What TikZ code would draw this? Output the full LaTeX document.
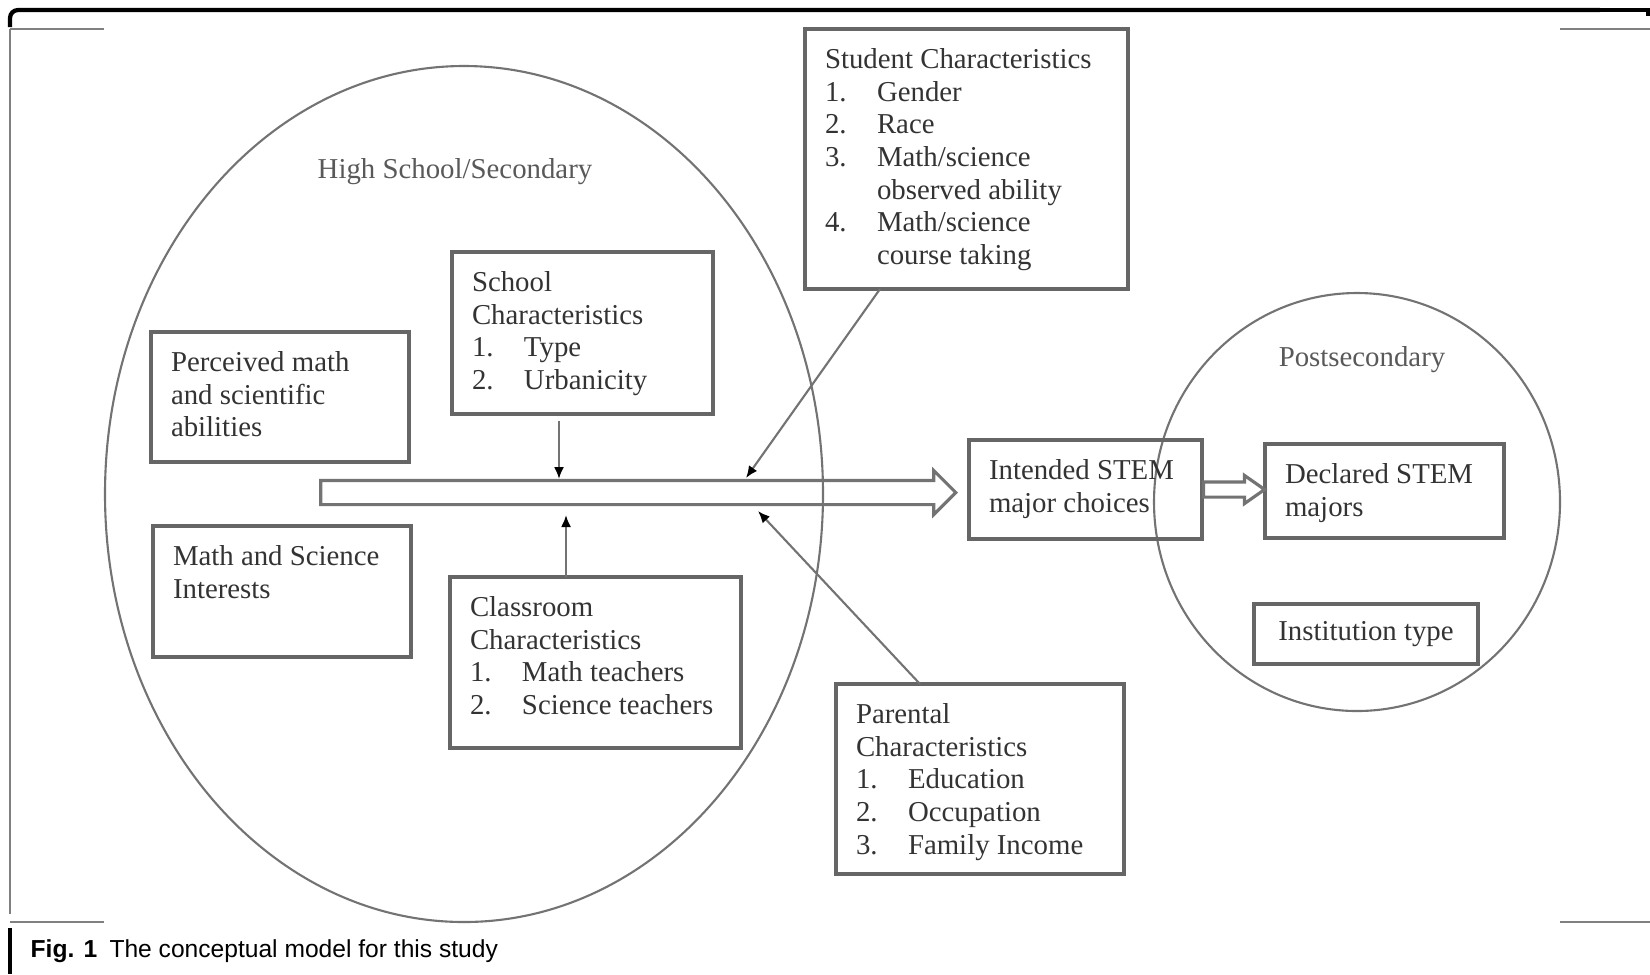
\documentclass[tikz,border=0pt]{standalone}
\usepackage{fontspec}
\setmainfont{Liberation Serif}
\newfontfamily\capfont{Liberation Sans}
\usetikzlibrary{arrows.meta,shapes.arrows}

\newcommand{\boxtext}[3]{\parbox[c][\dimexpr#2-3.3mm\relax][t]{\dimexpr#1-4mm\relax}{\begin{tabular}{@{}l@{}}#3\end{tabular}}}
\newcommand{\numline}[2]{\makebox[5.2mm][l]{#1}#2}
\newcommand{\moreline}[1]{\hspace*{5.2mm}#1}

\tikzset{
  factor/.style={draw=black!60, line width=0.9pt, anchor=north west, inner xsep=2mm, inner ysep=1.65mm,
    outer sep=0pt, text=black!80, font=\fontsize{8.2}{9.3}\selectfont},
  region/.style={draw=black!55, line width=0.6pt},
  zone/.style={text=black!65, font=\fontsize{8.2}{9.3}\selectfont},
  link/.style={draw=black!55, line width=0.6pt, -{Latex[length=1.2mm,width=1mm,color=black]}},
  bigarrow/.style={single arrow, draw=black!55, line width=0.9pt, inner xsep=0pt,
    text height=0pt, text depth=0pt},
  frameline/.style={draw=black!50, line width=0.7pt}
}

\begin{document}
\begin{tikzpicture}[x=0.1mm, y=-0.1mm]
      \useasboundingbox (0,0) rectangle (1650,974);
      \draw[line width=1.2pt, rounded corners=0.8mm] (10,27) -- (10,10) -- (1600,10);
      \draw[line width=1.2pt] (1590,10) -- (1648,10) -- (1648,16);
      \draw[frameline] (10,29) -- (10,914);
      \draw[line width=0.9pt] (10,928) -- (10,974);
      \draw[frameline] (10,29) -- (104,29);
      \draw[frameline] (1560,29) -- (1650,29);
      \draw[frameline] (10,922) -- (104,922);
      \draw[frameline] (1560,922) -- (1650,922);

      \draw[region] (464,494) ellipse [x radius=359, y radius=428];
      \draw[region] (1357,502) ellipse [x radius=203, y radius=209];
      \node[zone] (hslabel) at (455,172) {High School/Secondary};
      \node[zone] (pslabel) at (1362,360) {Postsecondary};

      \node[factor] (student) at (805,29) {\boxtext{32.3mm}{26mm}{Student Characteristics\\
        \numline{1.}{Gender}\\
        \numline{2.}{Race}\\
        \numline{3.}{Math/science}\\
        \moreline{observed ability}\\
        \numline{4.}{Math/science}\\
        \moreline{course taking}}};
      \node[factor] (school) at (452,252) {\boxtext{26.1mm}{16.2mm}{School\\
        Characteristics\\
        \numline{1.}{Type}\\
        \numline{2.}{Urbanicity}}};
      \node[factor] (perceived) at (151,332) {\boxtext{25.8mm}{13mm}{Perceived math\\
        and scientific\\
        abilities}};
      \node[factor] (interests) at (153,526) {\boxtext{25.8mm}{13.1mm}{Math and Science\\
        Interests}};
      \node[factor] (classroom) at (450,577) {\boxtext{29.1mm}{17.1mm}{Classroom\\
        Characteristics\\
        \numline{1.}{Math teachers}\\
        \numline{2.}{Science teachers}}};
      \node[factor] (parental) at (836,684) {\boxtext{28.8mm}{19mm}{Parental\\
        Characteristics\\
        \numline{1.}{Education}\\
        \numline{2.}{Occupation}\\
        \numline{3.}{Family Income}}};
      \node[factor] (intended) at (969,440) {\boxtext{23.3mm}{9.9mm}{Intended STEM\\
        major choices}};
      \node[factor] (declared) at (1265,444) {\boxtext{23.9mm}{9.4mm}{Declared STEM\\
        majors}};
      \node[factor, anchor=center, minimum width=22.4mm, minimum height=6mm, inner sep=0pt]
        (institution) at (1366,634) {Institution type};

      \node[bigarrow, inner ysep=1.05mm, single arrow head extend=1mm, single arrow tip angle=90,
        minimum height=63.5mm, anchor=tip] (flow) at (958,492.5) {};
      \node[bigarrow, inner ysep=0.6mm, single arrow head extend=0.65mm, single arrow tip angle=70,
        minimum height=6.1mm, anchor=tail] (advance) at (intended.east) {};

      \coordinate (schoolin) at (559,479);
      \coordinate (classin) at (566,515);
      \coordinate (studentin) at (746,478);
      \coordinate (parentin) at (758,511);
      \draw[link, shorten <=0.7mm] (school.south -| schoolin) -- (schoolin);
      \draw[link] (classroom.north -| classin) -- (classin);
      \draw[link] ([xshift=7.5mm]student.south west) -- (studentin);
      \draw[link] ([xshift=8.4mm]parental.north west) -- (parentin);

      \node[anchor=base west, inner sep=0pt, font=\capfont\fontsize{7}{8.4}\selectfont]
        (caption) at (30,957) {\textbf{Fig. 1}\enspace The conceptual model for this study};
    \end{tikzpicture}
\end{document}
